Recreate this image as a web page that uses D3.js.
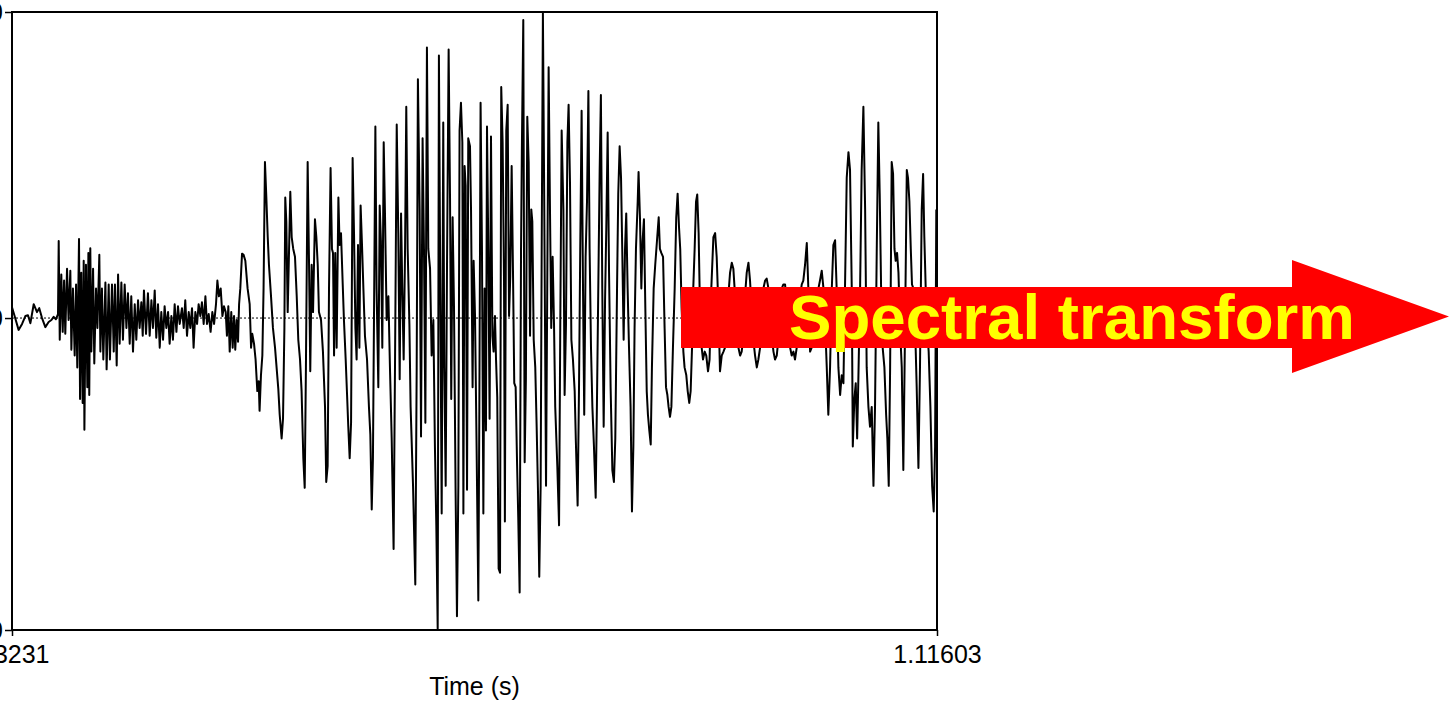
<!DOCTYPE html>
<html>
<head>
<meta charset="utf-8">
<script src="https://cdn.jsdelivr.net/npm/d3@7"></script>
<style>
  body { margin: 0; background: #fff; overflow: hidden; }
  text { font-family: "Liberation Sans", Arial, sans-serif; }
</style>
</head>
<body>
<div id="chart"></div>
<script>
// Praat-style waveform with a "Spectral transform" arrow over it

const width = 1449;
const height = 703;
const margin = {left: 12, right: 512, top: 12, bottom: 73};

// time axis (s) and amplitude range
const timeStart = 0.583231;
const timeEnd = 1.11603;
const ampMin = -0.79;
const ampMax = 0.775;

// waveform vertices: [ms from start, amplitude]
const fricative = [
  [0,0.027],[1.5,0.005],[3.8,-0.030],[5.8,-0.015],[7.7,0.005],[9.2,0.007],[10.6,-0.013],[12.5,0.035],
  [14.4,0.015],[15.7,0.025],[17.3,0],[19.2,-0.023],[21.1,-0.010],[22.7,-0.005],[24.0,0.003],[25.3,-0.003],
  [26.5,0.010],[26.9,0.195],[27.5,-0.055],[28.4,0.110],[29.2,-0.035],[30.0,0.095],[30.7,-0.040],[31.7,0.125],
  [32.6,-0.005],[33.6,0.120],[34.2,-0.080],[35.1,0.075],[36.1,-0.095],[36.9,0.085],[37.6,-0.125],[38.6,0.200],
  [39.2,-0.205],[39.9,0.115],[40.7,-0.215],[41.3,0.145],[41.7,-0.283],[42.6,0.135],[43.4,-0.175],[44.0,0.165],
  [44.5,-0.195],[45.1,0.177],[45.7,-0.085],[46.7,0.125],[47.4,-0.115],[48.4,0.075],[49.2,-0.025],[50.3,0.160],
  [50.9,-0.085],[51.8,0.075],[52.6,-0.105],[53.8,0.090],[54.5,-0.130],[55.7,0.085],[56.4,-0.105],[57.6,0.085],
  [58.6,-0.085],[59.3,0.085],[60.3,-0.120],[61.1,0.110],[62.0,-0.065],[63.0,0.090],[63.9,-0.055],[64.9,0.085],
  [65.9,-0.025],[66.8,0.063],[67.8,-0.065],[68.7,0.055],[69.7,-0.085],[70.7,0.035],[71.6,-0.055],[72.6,0.045],
  [73.5,-0.025],[74.5,0.040],[75.3,-0.045],[76.0,0.070],[77.2,-0.040],[78.3,0.063],[79.3,-0.045],[80.3,0.045],
  [81.2,-0.025],[82.2,0.070],[83.1,-0.050],[84.1,0.035],[85.1,-0.075],[86.0,0.015],[87.0,-0.055],[87.9,0.030],
  [88.9,-0.025],[89.9,0.015],[90.8,-0.065],[91.8,0.005],[92.7,-0.055],[93.7,0.035],[94.7,-0.035],[95.6,0.030],
  [96.6,-0.015],[97.9,0.025],[98.9,-0.025],[99.8,0.045],[100.8,-0.045],[101.8,0.015],[102.7,-0.025],[103.7,0.025],
  [104.6,-0.075],[105.6,0.015],[106.6,-0.015],[107.5,0.035],[108.5,0.005],[109.4,0.040],[110.4,-0.015],[111.4,0.055],
  [112.3,-0.015],[113.3,0.010],[114.4,-0.035],[115.4,0.015],[116.4,-0.015],[117.5,0.035],[118.3,0.095],[119.2,0.055],
  [120.2,0.075],[121.2,0.005],[122.1,0.030],[123.1,0.015],[123.8,-0.045],[124.6,0.030],[125.4,-0.085],[126.3,0.015],
  [127.1,-0.075],[127.9,0.005],[128.6,-0.080],[129.4,-0.005],[130.2,-0.060],[130.8,0.035],[131.5,0.075],[132.5,0.163],
  [133.4,0.160],[134.4,0.145]
];

const vowelOnset = [
  [135.7,0.075],[136.9,0.035],[137.7,-0.075],[138.4,-0.040],[139.4,-0.065],[140.3,-0.105],[141.3,-0.185],[142.1,-0.160],
  [142.6,-0.235],[143.4,-0.145],[144.2,-0.095],[144.9,0.075],[145.7,0.395],[146.5,0.305],[147.3,0.205],[148.0,0.135],
  [149.2,0.055],[150.3,-0.025],[151.5,-0.075],[152.4,-0.125],[153.4,-0.180],[154.2,-0.245],[155.3,-0.305],[156.1,-0.255],
  [156.9,-0.025],[157.4,0.305],[158.0,0.245],[158.8,0.015],[159.5,0.155],[160.3,0.320],[161.1,0.205],[162.0,0.175],
  [163.0,0.155],[164.0,0.055],[164.9,-0.055],[165.9,-0.105],[166.8,-0.185],[167.8,-0.355],[168.6,-0.430],[169.3,-0.125],
  [170.3,0.395],[171.1,0.135],[171.8,-0.135],[172.6,0.135],[173.4,0.015],[173.9,0.125],[174.5,0.250],[175.3,0.205],
  [176.1,0.135],[176.8,0.015],[178.0,-0.005],[179.1,-0.085],[180.3,-0.225],[181.0,-0.415],[181.8,-0.375],[182.6,0.075],
  [183.5,0.380],[184.3,0.175],[184.9,0.165],[185.5,-0.095],[186.2,0.165],[187.0,-0.075],[188.0,0.305],[188.7,0.185],
  [189.5,0.215],[190.5,0.085],[191.2,-0.005],[192.2,-0.105],[193.0,-0.195],[193.7,-0.275],[194.5,-0.355],[195.3,-0.265],
  [196.2,0.405],[197.0,0.215],[197.8,-0.025],[198.5,-0.105],[199.3,0.185],[200.1,-0.075],[200.8,0.285],[201.6,0.185],
  [202.4,0.075],[203.3,-0.045],[204.5,-0.105],[205.6,-0.225],[206.4,-0.295],[207.2,-0.485],[207.9,-0.355],[208.7,0.115],
  [209.3,0.485],[210.0,0.075],[211.0,-0.175],[211.8,0.285],[212.5,0.195],[213.3,-0.075],[214.1,0.445],[214.8,0.275],
  [215.8,-0.005],[216.8,0.055],[217.7,-0.125],[218.7,-0.305],[219.8,-0.585],[220.6,-0.125],[221.6,0.490],[222.5,0.215],
  [223.3,-0.155],[224.1,0.265],[224.8,0.075],[225.6,-0.105],[226.4,0.175],[227.1,0.535],[227.9,0.175],[228.9,-0.015],
  [229.6,-0.225],[231.0,-0.425],[232.3,-0.675],[233.1,-0.125],[233.8,0.605],[234.8,0.275],[235.6,-0.300],[236.5,0.455],
  [237.3,0.175],[238.1,-0.265],[239.0,0.685],[239.8,0.175],[240.8,0.125],[241.7,-0.095],[242.7,-0.005],[243.6,-0.325],
  [244.4,-0.525],[245.2,-0.787],[245.9,0.665],[246.7,0.075],[247.5,-0.495],[248.4,0.495],[249.0,-0.125],[249.8,-0.425],
  [250.6,0.155],[251.5,0.680],[252.3,0.305],[253.0,-0.205],[253.8,0.255],[254.6,0.025],[255.5,-0.435],[256.3,-0.755],
  [257.1,-0.425],[257.8,0.475],[258.6,0.545],[259.4,0.445],[260.0,-0.495],[260.7,0.385],[261.3,0.335],[262.1,-0.435],
  [262.8,0.455],[263.8,0.435],[264.4,0.275],[265.3,-0.175],[265.9,0.145],[266.7,0.005],[267.6,-0.325],[268.6,-0.715]
];

const vowelPeak = [
  [269.2,-0.225],[269.9,0.545],[270.7,0.175],[271.5,-0.495],[272.2,0.075],[273.0,-0.285],[273.6,0.485],[274.4,0.155],
  [275.1,-0.255],[275.9,0.460],[276.7,-0.045],[277.4,-0.085],[278.2,0.005],[278.8,-0.105],[279.5,-0.200],[280.3,-0.635],
  [281.1,-0.645],[281.8,0.585],[282.6,0.445],[283.4,0.095],[283.9,-0.515],[284.7,0.475],[285.5,0.540],[286.3,0.005],
  [287.0,0.105],[287.8,0.385],[288.6,0.105],[289.3,-0.165],[290.1,-0.175],[290.9,-0.365],[291.6,-0.505],[292.4,-0.695],
  [293.2,0.175],[293.7,0.435],[294.5,0.755],[295.3,-0.365],[296.0,-0.155],[296.8,0.510],[297.6,0.395],[298.4,-0.045],
  [299.1,0.275],[299.7,0.245],[300.5,-0.055],[301.4,-0.125],[302.2,-0.275],[303.0,-0.445],[303.7,-0.655],[304.5,-0.425],
  [305.1,0.175],[305.8,0.772],[306.6,0.275],[307.6,-0.425],[308.3,0.075],[309.1,0.635],[309.9,0.265],[310.6,-0.025],
  [311.4,0.155],[312.2,-0.015],[312.9,-0.225],[314.1,-0.375],[315.1,-0.525],[315.8,-0.025],[316.6,0.475],[317.6,0.275],
  [318.3,-0.195],[319.1,-0.015],[319.9,0.445],[320.6,0.540],[321.4,0.345],[322.2,-0.055],[323.1,-0.105],[324.1,-0.185],
  [324.8,-0.315],[325.8,-0.475],[326.6,-0.175],[327.3,0.175],[328.1,0.525],[328.9,0.075],[329.6,-0.245],[330.4,0.155],
  [331.2,0.295],[332.0,0.575],[332.7,0.175],[333.5,-0.075],[334.3,-0.225],[335.2,-0.325],[336.2,-0.455],[336.9,-0.225],
  [337.7,0.075],[338.5,0.375],[339.2,0.565],[340.0,0.075],[340.8,-0.275],[341.6,0.045],[342.3,0.225],[343.1,0.470],
  [343.9,0.115],[344.8,-0.175],[345.8,-0.385],[346.7,-0.415],[347.5,-0.305],[348.5,0.075],[349.2,0.315],[350.0,0.435],
  [350.8,0.355],[351.5,0.175],[352.3,-0.055],[353.1,0.175],[353.8,0.265],[354.6,0.075],[355.4,-0.075],[356.3,-0.225],
  [357.1,-0.490],[357.9,-0.325],[358.6,-0.025],[359.4,0.175],[360.4,0.295],[360.9,0.370],[361.7,0.255],[362.5,0.075],
  [363.2,0.195],[364.0,0.250],[364.8,0.025],[365.6,-0.185],[366.3,-0.245],[367.1,-0.285],[367.9,-0.320],[368.6,-0.125],
  [369.6,0.075],[370.5,0.135],[371.5,0.195],[372.5,0.255],[373.2,0.175],[374.0,0.165],[375.0,0.155],[375.9,-0.025],
  [376.7,-0.175],[377.5,-0.195],[378.2,-0.225],[379.0,-0.250],[379.8,-0.225],[380.7,-0.075],[381.7,0.075],[382.6,0.255],
  [383.4,0.315],[384.2,0.230],[384.9,0.175],[385.7,0.025],[386.7,-0.085],[387.4,-0.125],[388.4,-0.145],[389.2,-0.185],
  [390.1,-0.215],[390.9,-0.185],[391.7,-0.075],[392.4,0.075],[393.2,0.175],[394.0,0.295],[394.7,0.313],[395.5,0.215],
  [396.3,0.015],[397.0,-0.065],[398.0,-0.105],[399.0,-0.085],[399.9,-0.095],[400.9,-0.135],[401.8,-0.105],[402.8,0.075]
];

const secondVowel = [
  [404.0,0.205],[405.0,0.215],[405.9,0.155],[406.9,0.025],[407.8,-0.135],[408.8,-0.095],[409.8,-0.085],[410.7,-0.075],
  [411.7,-0.025],[412.6,0.055],[413.6,0.115],[414.6,0.140],[415.5,0.125],[416.5,0.055],[417.4,-0.025],[418.4,-0.075],
  [419.4,-0.095],[420.3,-0.085],[421.3,-0.045],[422.2,0.055],[423.2,0.115],[424.2,0.140],[425.1,0.095],[426.1,0.015],
  [427.0,-0.055],[428.0,-0.095],[429.0,-0.125],[429.9,-0.105],[430.9,-0.075],[431.8,-0.005],[432.8,0.075],[433.8,0.095],
  [434.7,0.100],[435.7,0.075],[436.6,0.015],[437.6,-0.045],[438.6,-0.085],[439.5,-0.105],[440.5,-0.095],[441.4,-0.055],
  [442.4,0.015],[443.4,0.075],[444.3,0.085],[445.3,0.085],[446.2,0.035],[447.2,-0.025],[448.2,-0.075],[449.1,-0.095],
  [450.1,-0.085],[451.0,-0.105],[452.0,-0.075],[453.0,-0.005],[453.9,0.055],[454.9,0.085],[455.8,0.095],[456.8,0.135],
  [457.8,0.190],[458.7,0.075],[459.7,-0.085],[460.6,-0.075],[461.6,-0.045],[462.6,-0.005],[463.5,0.035],[464.5,0.075],
  [465.4,0.095],[466.4,0.120],[467.4,0.075],[468.3,-0.005],[469.3,-0.125],[470.2,-0.245],[471.2,-0.125],[472.2,0.075],
  [473.1,0.185],[474.1,0.197],[475.0,0.075],[476.0,-0.125],[477.0,-0.195],[477.9,-0.145],[478.9,-0.165],[479.8,0.075],
  [480.8,0.355],[481.8,0.420],[482.7,0.375],[483.7,0.075],[484.3,-0.325],[485.2,-0.205],[486.0,-0.165],[486.8,-0.305],
  [487.5,-0.155],[488.5,0.075],[489.4,0.375],[490.4,0.535],[491.4,0.275],[492.3,-0.125],[493.3,-0.225],[494.2,-0.275],
  [495.2,-0.225],[496.2,-0.425],[497.1,-0.225],[498.1,0.175],[499.0,0.495],[499.8,0.315],[500.6,0.075],[501.5,-0.075],
  [502.5,-0.125],[503.5,-0.245],[504.2,-0.305],[505.0,-0.425],[505.8,-0.125],[506.7,0.395],[507.5,0.365],[508.3,0.175],
  [509.0,0.145],[509.8,0.165],[510.6,0.115],[511.5,-0.025],[512.5,-0.125],[513.4,-0.385],[514.4,-0.025],[515.4,0.375],
  [516.1,0.355],[516.9,0.295],[517.7,0.175],[518.4,0.085],[519.2,0.075],[520.2,-0.025],[521.1,-0.175],[522.1,-0.380],
  [523.0,-0.125],[524.0,0.275],[524.8,0.365],[525.5,0.205],[526.3,0.075],[527.1,-0.025],[528.0,-0.085],[529.0,-0.225],
  [530.0,-0.425],[530.9,-0.490],[531.7,-0.325],[532.4,0.275]
];

const arrowLabel = "Spectral transform";

const wave = fricative.concat(vowelOnset, vowelPeak, secondVowel);
const duration = (timeEnd - timeStart) * 1000;

const svg = d3.select("#chart")
  .append("svg")
  .attr("width", width)
  .attr("height", height)
  .attr("viewBox", [0, 0, width, height]);

const xScale = d3.scaleLinear()
  .domain([0, duration])
  .range([margin.left, width - margin.right]);

const yScale = d3.scaleLinear()
  .domain([ampMin, ampMax])
  .range([height - margin.bottom, margin.top]);

// clip for the signal
svg.append("clipPath").attr("id", "plotclip")
  .append("rect")
  .attr("x", xScale(0)).attr("y", yScale(ampMax))
  .attr("width", xScale(duration) - xScale(0))
  .attr("height", yScale(ampMin) - yScale(ampMax));

// dotted zero line
svg.append("line")
  .attr("x1", xScale(0)).attr("x2", xScale(duration))
  .attr("y1", yScale(0)).attr("y2", yScale(0))
  .attr("stroke", "#000")
  .attr("stroke-width", 1)
  .attr("stroke-dasharray", "2,2");

// the waveform
const line = d3.line()
  .x(d => xScale(d[0]))
  .y(d => yScale(d[1]));

svg.append("path")
  .datum(wave)
  .attr("clip-path", "url(#plotclip)")
  .attr("d", line)
  .attr("fill", "none")
  .attr("stroke", "#000")
  .attr("stroke-width", 2)
  .attr("stroke-linejoin", "round");

// frame
svg.append("rect")
  .attr("x", xScale(0)).attr("y", yScale(ampMax))
  .attr("width", xScale(duration) - xScale(0))
  .attr("height", yScale(ampMin) - yScale(ampMax))
  .attr("fill", "none")
  .attr("stroke", "#000")
  .attr("stroke-width", 2);

// y axis: min, 0, max like Praat
const yAxis = d3.axisLeft(yScale)
  .tickValues([ampMin, 0, ampMax])
  .tickFormat(d => d === 0 ? "0" : d3.format(".4f")(d))
  .tickSize(7)
  .tickPadding(2);

svg.append("g")
  .attr("transform", `translate(${xScale(0)},0)`)
  .call(yAxis)
  .call(g => g.select(".domain").remove())
  .call(g => g.selectAll(".tick line").attr("stroke-width", 1.5))
  .call(g => g.selectAll("text").attr("font-size", 25).attr("font-family", "Liberation Sans, Arial").attr("fill", "#000"));

// x axis: start and end times
const xAxis = d3.axisBottom(xScale)
  .tickValues([0, duration])
  .tickFormat(d => d === 0 ? String(timeStart) : String(timeEnd))
  .tickSize(6)
  .tickPadding(9);

const xg = svg.append("g")
  .attr("transform", `translate(0,${height - margin.bottom})`)
  .call(xAxis)
  .call(g => g.select(".domain").remove())
  .call(g => g.selectAll(".tick line").attr("stroke-width", 1.5))
  .call(g => g.selectAll("text").attr("font-size", 25).attr("font-family", "Liberation Sans, Arial").attr("fill", "#000"));

// left time label sits further left, as in the slide
xg.selectAll(".tick text").filter(d => d === 0)
  .attr("text-anchor", "end")
  .attr("x", 37);

svg.append("text")
  .attr("x", (xScale(0) + xScale(duration)) / 2)
  .attr("y", 695)
  .attr("text-anchor", "middle")
  .attr("font-size", 25)
  .text("Time (s)");

// red arrow
const arrow = {x0: 681, shaftTop: 287, shaftBot: 348, headX: 1292, headTop: 260, headBot: 373, tip: 1449};
const tipY = (arrow.headTop + arrow.headBot) / 2;
svg.append("polygon")
  .attr("points", [
    [arrow.x0, arrow.shaftTop], [arrow.headX, arrow.shaftTop], [arrow.headX, arrow.headTop],
    [arrow.tip, tipY], [arrow.headX, arrow.headBot], [arrow.headX, arrow.shaftBot], [arrow.x0, arrow.shaftBot]
  ].map(p => p.join(",")).join(" "))
  .attr("fill", "#ff0000");

const label = svg.append("text")
  .attr("x", 789)
  .attr("y", 339)
  .attr("font-size", 62)
  .attr("font-weight", "bold")
  .attr("fill", "#ffff00")
  .text(arrowLabel);

// fit label width to the slide (789 -> 1355)
const w = label.node().getComputedTextLength();
label.attr("font-size", 62 * 566 / w);
</script>
</body>
</html>
